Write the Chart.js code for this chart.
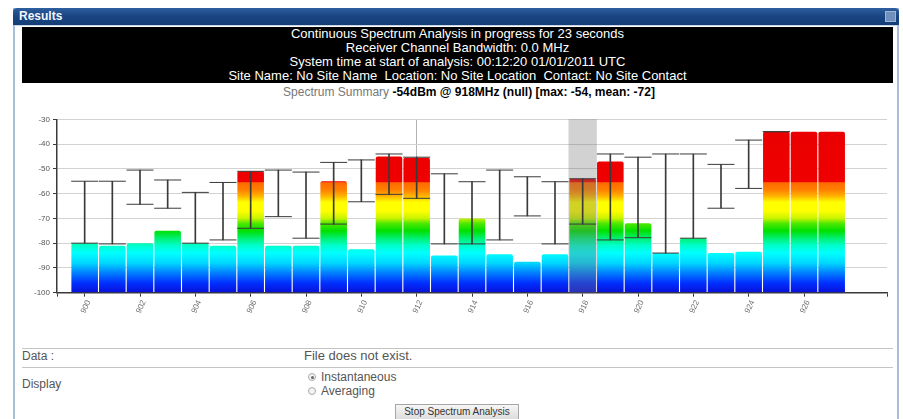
<!DOCTYPE html>
<html>
<head>
<meta charset="utf-8">
<title>Results</title>
<script src="https://cdn.jsdelivr.net/npm/chart.js@4.4.1/dist/chart.umd.min.js"></script>
<style>
  html, body { margin: 0; padding: 0; background: #fff; width: 903px; height: 419px; overflow: hidden;
    font-family: "Liberation Sans", Arial, sans-serif; }
  #panel { position: absolute; left: 13px; top: 8px; width: 882px; height: 430px;
    border-left: 2px solid #a9bed8; border-right: 2px solid #a9bed8; }
  #titlebar { position: absolute; left: 13px; top: 8px; width: 886px; height: 17px;
    background: linear-gradient(#2e5f9f, #1a4683 45%, #143d76); border-radius: 4px 4px 0 0;
    color: #f2f6fb; font-weight: bold; font-size: 12px; line-height: 17px; }
  #titlebar span { position: absolute; left: 6px; top: 0; }
  #titlebar i { position: absolute; right: 3px; top: 3px; width: 9px; height: 9px;
    background: #6f8fbd; border: 1px solid #9fb5d6; }
  #underline { position: absolute; left: 15px; top: 25px; width: 882px; height: 1px; background: #c9d5e5; }
  #status { position: absolute; left: 22px; top: 27px; width: 871px; height: 56px; background: #000;
    color: #fff; font-size: 13px; line-height: 14px; text-align: center; }
  #summary { position: absolute; left: 22px; top: 85px; width: 894px; text-align: center;
    font-size: 12px; line-height: 14px; color: #000; }
  #summary .lbl { color: #777; }
  #summary b { font-weight: bold; }
  #plot { position: absolute; left: 0; top: 100px; width: 903px; height: 240px; }
  .rule { position: absolute; left: 22px; width: 871px; height: 1px; background: #c4c4c4; }
  .txt { position: absolute; font-size: 12px; line-height: 14px; color: #555; white-space: nowrap; }
  .radio { position: absolute; width: 6px; height: 6px; border-radius: 50%; border: 1px solid #aaa; background: #f4f4f4; }
  .radio.on::after { content: ""; position: absolute; left: 1.5px; top: 1.5px; width: 3px; height: 3px;
    border-radius: 50%; background: #666; }
  #stop { position: absolute; left: 395px; top: 404px; width: 124px; height: 16px; box-sizing: border-box;
    border: 1px solid #a6a6a6; background: linear-gradient(#f6f6f6, #dddddd); font-size: 10px;
    line-height: 14px; text-align: center; color: #333; }
</style>
</head>
<body>
<div id="panel"></div>
<div id="titlebar"><span>Results</span><i></i></div>
<div id="underline"></div>
<div id="status">
  Continuous Spectrum Analysis in progress for 23 seconds<br>
  Receiver Channel Bandwidth: 0.0 MHz<br>
  System time at start of analysis: 00:12:20 01/01/2011 UTC<br>
  Site Name: No Site Name&nbsp; Location: No Site Location&nbsp; Contact: No Site Contact
</div>
<div id="summary"><span class="lbl">Spectrum Summary </span><b>-54dBm @ 918MHz (null) [max: -54, mean: -72]</b></div>

<div id="plot"><canvas id="spectrum" width="903" height="240"></canvas></div>

<div class="rule" style="top:348px"></div>
<div class="txt" style="left:22px;top:349px">Data :</div>
<div class="txt" style="left:304px;top:349px;font-size:13px">File does not exist.</div>
<div class="rule" style="top:367px"></div>
<div class="txt" style="left:22px;top:377px">Display</div>
<div class="radio on" style="left:308px;top:373px"></div>
<div class="txt" style="left:321px;top:370px">Instantaneous</div>
<div class="radio" style="left:308px;top:387px"></div>
<div class="txt" style="left:321px;top:384px">Averaging</div>
<div id="stop">Stop Spectrum Analysis</div>

<script>
// Channel centres in MHz (the first and last two slots are empty margins on the axis)
const freqsMHz = [899, 900, 901, 902, 903, 904, 905, 906, 907, 908, 909, 910, 911, 912, 913,
                  914, 915, 916, 917, 918, 919, 920, 921, 922, 923, 924, 925, 926, 927, 928, 929];

// Instantaneous level per channel, dBm
const levelDbm = [null, -80, -81, -80, -75, -80, -81, -51, -81, -81, -55, -82.5, -45, -45.5, -85,
                  -70, -84.5, -87.5, -84.5, -54, -47, -72, -84, -78, -84, -83.5, -35, -35, -35, null, null];

// Peak and floor seen on each channel during the run, dBm
const maxDbm = [null, -55, -55, -50.5, -54.5, -59.5, -55.5, -51, -50.5, -51.3, -47.4, -46.4, -44, -45.3, -52,
                -55.2, -50.5, -53.2, -55.2, -54, -44, -45.3, -44, -44, -48.2, -38.4, -35, null, null, null, null];
const minDbm = [null, -80, -80.3, -64.3, -65.9, -80, -78.7, -74, -69.3, -78, -72.3, -63.3, -60.3, -61.9, -80.3,
                -80.3, -78.7, -69, -80.3, -72.3, -78.7, -77.8, -84, -78, -65.9, -57.9, -35, null, null, null, null];

// Channels picked out on the display
const selectedMHz = 918;   // shaded column
const markerMHz = 912;     // vertical marker line

// Y axis range and tick step, dBm
const dbmMin = -100, dbmMax = -30, dbmStep = 10;

// Level colour ramp (dBm -> colour), pinned to the axis rather than to each bar
const rampStops = [
  [-100, '#0a10d8'], [-96, '#0030ff'], [-92, '#0080ff'], [-88, '#00d8ff'], [-84, '#00ffff'],
  [-81, '#00ffcc'], [-78, '#00f070'], [-75, '#00e000'], [-72, '#50e800'], [-70, '#c8f400'],
  [-67, '#ffff00'], [-63.5, '#ffff00'], [-61, '#ffb400'], [-58.5, '#ff8000'], [-55.6, '#ff6a00'],
  [-55.2, '#f00000'], [-30, '#e80000']
];

function levelFill(ctx) {
  const chart = ctx.chart;
  const y = chart.scales.y;
  if (!chart.chartArea || !y) return '#00ffff';
  const y0 = y.getPixelForValue(dbmMin), y1 = y.getPixelForValue(dbmMax);
  const g = chart.ctx.createLinearGradient(0, y0, 0, y1);
  rampStops.forEach(([v, c]) => g.addColorStop((v - dbmMin) / (dbmMax - dbmMin), c));
  return g;
}

const rangeData = maxDbm.map((hi, i) => (hi == null || minDbm[i] == null) ? null : [minDbm[i], hi]);
const shadeData = freqsMHz.map(f => f === selectedMHz ? [dbmMin, dbmMax] : null);

const labelled = i => i % 2 === 1 && i <= 27;
const errColor = '#3a3a3a';

new Chart(document.getElementById('spectrum'), {
  type: 'bar',
  data: {
    labels: freqsMHz.map(String),
    datasets: [
      { // channel levels
        data: levelDbm, base: dbmMin, grouped: false, order: 4,
        backgroundColor: levelFill, borderWidth: 0,
        barPercentage: 0.96, categoryPercentage: 1,
        borderRadius: { topLeft: 2, topRight: 2, bottomLeft: 0, bottomRight: 0 }, borderSkipped: 'bottom'
      },
      { // selected channel shading
        data: shadeData, grouped: false, order: 3,
        backgroundColor: 'rgba(115,115,115,0.32)', borderWidth: 0,
        barPercentage: 1, categoryPercentage: 1
      },
      { // min-max stems
        data: rangeData, grouped: false, order: 2,
        backgroundColor: errColor, borderWidth: 0, barThickness: 1
      },
      { // max caps
        type: 'line', data: maxDbm, order: 1, showLine: false,
        pointStyle: 'line', pointRadius: 13.5, pointHoverRadius: 13.5,
        pointBorderColor: errColor, pointBorderWidth: 1, borderColor: errColor
      },
      { // min caps
        type: 'line', data: minDbm, order: 1, showLine: false,
        pointStyle: 'line', pointRadius: 13.5, pointHoverRadius: 13.5,
        pointBorderColor: errColor, pointBorderWidth: 1, borderColor: errColor
      }
    ]
  },
  options: {
    responsive: false,
    animation: false,
    devicePixelRatio: 1,
    events: [],
    layout: { padding: { top: 19.3, right: 16, bottom: 0, left: 0 } },
    plugins: { legend: { display: false }, tooltip: { enabled: false } },
    scales: {
      x: {
        type: 'category',
        offset: false,
        grid: {
          offset: false,
          color: c => freqsMHz[c.index] === markerMHz ? '#b4b4b4' : 'rgba(0,0,0,0)',
          tickColor: c => (labelled(c.index) || c.index === 0 || c.index === freqsMHz.length - 1) ? errColor : 'rgba(0,0,0,0)',
          tickLength: 4,
          lineWidth: 1
        },
        border: { color: '#3a3a3a', width: 1.5 },
        ticks: {
          autoSkip: false,
          maxRotation: 65, minRotation: 65,
          labelOffset: 4,
          padding: 2,
          color: '#707070',
          font: { family: 'Liberation Sans', size: 8 },
          callback: (v, i) => labelled(i) ? String(freqsMHz[i]) : ''
        },
        afterFit: s => { s.height = 47.3; }
      },
      y: {
        min: dbmMin, max: dbmMax,
        grid: { color: '#d2d2d2', lineWidth: 1, tickLength: 4, tickColor: errColor },
        border: { color: '#3a3a3a', width: 1.5 },
        ticks: {
          stepSize: dbmStep, padding: 3, color: '#555',
          font: { family: 'Liberation Sans', size: 8 }
        },
        afterFit: s => { s.width = 57; }
      }
    }
  }
});
</script>
</body>
</html>
